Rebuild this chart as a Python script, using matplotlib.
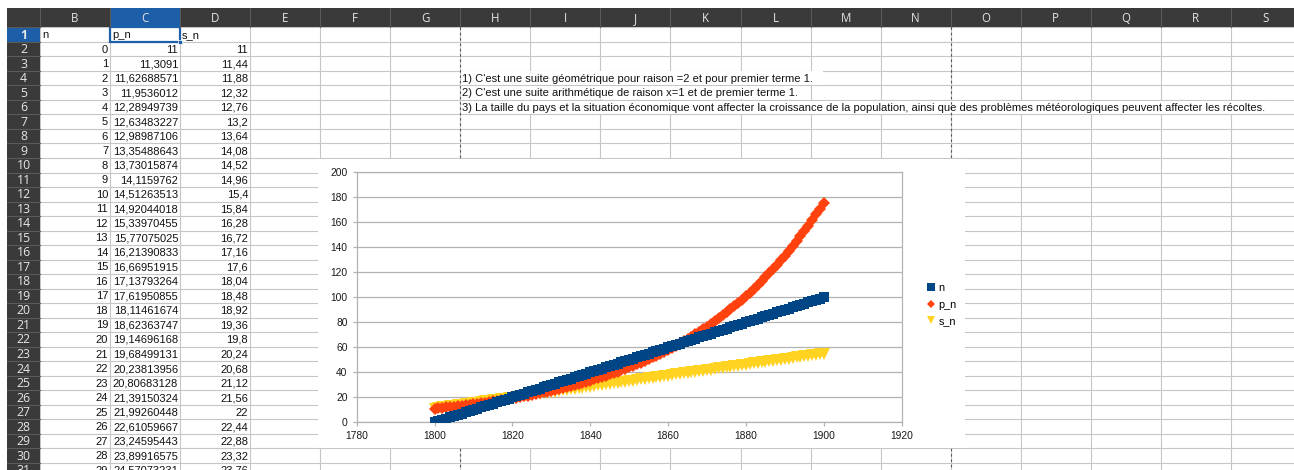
import matplotlib
matplotlib.use("Agg")
import matplotlib.pyplot as plt
from matplotlib.patches import Rectangle
from matplotlib.lines import Line2D

plt.rcParams['font.family'] = ['Liberation Sans', 'DejaVu Sans']

# column A (years), hidden behind the scroll position
years = [1800, 1801, 1802, 1803, 1804, 1805, 1806, 1807, 1808, 1809,
         1810, 1811, 1812, 1813, 1814, 1815, 1816, 1817, 1818, 1819,
         1820, 1821, 1822, 1823, 1824, 1825, 1826, 1827, 1828, 1829,
         1830, 1831, 1832, 1833, 1834, 1835, 1836, 1837, 1838, 1839,
         1840, 1841, 1842, 1843, 1844, 1845, 1846, 1847, 1848, 1849,
         1850, 1851, 1852, 1853, 1854, 1855, 1856, 1857, 1858, 1859,
         1860, 1861, 1862, 1863, 1864, 1865, 1866, 1867, 1868, 1869,
         1870, 1871, 1872, 1873, 1874, 1875, 1876, 1877, 1878, 1879,
         1880, 1881, 1882, 1883, 1884, 1885, 1886, 1887, 1888, 1889,
         1890, 1891, 1892, 1893, 1894, 1895, 1896, 1897, 1898, 1899,
         1900]

n_vals = [0, 1, 2, 3, 4, 5, 6, 7, 8, 9, 10, 11, 12, 13, 14, 15, 16, 17, 18, 19,
          20, 21, 22, 23, 24, 25, 26, 27, 28, 29, 30, 31, 32, 33, 34, 35, 36, 37, 38, 39,
          40, 41, 42, 43, 44, 45, 46, 47, 48, 49, 50, 51, 52, 53, 54, 55, 56, 57, 58, 59,
          60, 61, 62, 63, 64, 65, 66, 67, 68, 69, 70, 71, 72, 73, 74, 75, 76, 77, 78, 79,
          80, 81, 82, 83, 84, 85, 86, 87, 88, 89, 90, 91, 92, 93, 94, 95, 96, 97, 98, 99,
          100]

p_n = [11, 11.3091, 11.62688571, 11.9536012, 12.28949739, 12.63483227,
       12.98987106, 13.35488643, 13.73015874, 14.1159762, 14.51263513,
       14.92044018, 15.33970455, 15.77075025, 16.21390833, 16.66951915,
       17.13793264, 17.61950855, 18.11461674, 18.62363747, 19.14696168,
       19.68499131, 20.23813956, 20.80683128, 21.39150324, 21.99260448,
       22.61059667, 23.24595443, 23.89916575, 24.57073231, 25.2612,
       25.9710, 26.7008, 27.4511, 28.2225, 29.0155, 29.8308, 30.6691,
       31.5309, 32.4169, 33.3278, 34.2643, 35.2272, 36.2171, 37.2348,
       38.2811, 39.3567, 40.4627, 41.5997, 42.7686, 43.9704, 45.2060,
       46.4763, 47.7823, 49.1249, 50.5054, 51.9246, 53.3836, 54.8837,
       56.4259, 58.0115, 59.6416, 61.3176, 63.0406, 64.8120, 66.6333,
       68.5056, 70.4307, 72.4098, 74.4445, 76.5364, 78.6870, 80.8981,
       83.1714, 85.5085, 87.9113, 90.3816, 92.9213, 95.5324, 98.2169,
       100.9768, 103.8142, 106.7314, 109.7305, 112.8140, 115.9840,
       119.2432, 122.5939, 126.0388, 129.5805, 133.2217, 136.9652,
       140.8140, 144.7708, 148.8389, 153.0213, 157.3212, 161.7419,
       166.2868, 170.9595, 175.7635]

s_n = [11, 11.44, 11.88, 12.32, 12.76, 13.2, 13.64, 14.08, 14.52, 14.96,
       15.4, 15.84, 16.28, 16.72, 17.16, 17.6, 18.04, 18.48, 18.92, 19.36,
       19.8, 20.24, 20.68, 21.12, 21.56, 22, 22.44, 22.88, 23.32, 23.76,
       24.2, 24.64, 25.08, 25.52, 25.96, 26.4, 26.84, 27.28, 27.72, 28.16,
       28.6, 29.04, 29.48, 29.92, 30.36, 30.8, 31.24, 31.68, 32.12, 32.56,
       33, 33.44, 33.88, 34.32, 34.76, 35.2, 35.64, 36.08, 36.52, 36.96,
       37.4, 37.84, 38.28, 38.72, 39.16, 39.6, 40.04, 40.48, 40.92, 41.36,
       41.8, 42.24, 42.68, 43.12, 43.56, 44, 44.44, 44.88, 45.32, 45.76,
       46.2, 46.64, 47.08, 47.52, 47.96, 48.4, 48.84, 49.28, 49.72, 50.16,
       50.6, 51.04, 51.48, 51.92, 52.36, 52.8, 53.24, 53.68, 54.12, 54.56,
       55]

col_letters = ['B', 'C', 'D', 'E', 'F', 'G', 'H', 'I', 'J', 'K', 'L', 'M',
               'N', 'O', 'P', 'Q', 'R', 'S']
headers = ['n', 'p_n', 's_n']
notes = [
    "1) C'est une suite géométrique pour raison =2 et pour premier terme 1.",
    "2) C'est une suite arithmétique de raison x=1 et de premier terme 1.",
    "3) La taille du pays et la situation économique vont affecter la croissance "
    "de la population, ainsi que des problèmes météorologiques peuvent affecter les récoltes.",
]

W, H = 1294, 470
fig = plt.figure(figsize=(W / 100, H / 100), dpi=100)
fig.patch.set_facecolor('white')

sheet = fig.add_axes([0, 0, 1, 1])
sheet.set_xlim(0, W)
sheet.set_ylim(H, 0)
sheet.axis('off')

HEAD_TOP, HEAD_BOT = 8, 27.3
ROWNUM_L, ROWNUM_R = 7, 40
COL_W, ROW_H = 70.05, 14.52
N_ROWS = 31
DARK = '#3a3a3a'
SEL = '#1d5ea8'
GRID = '#c6c6c6'
CELL_FS = 8.0


def col_left(i):
    return ROWNUM_R + i * COL_W


def row_top(r):
    return HEAD_BOT + (r - 1) * ROW_H


def cell_text(v):
    s = f"{v:.8f}".rstrip('0').rstrip('.')
    return s.replace('.', ',')


# cell grid
for i in range(len(col_letters) + 1):
    x = col_left(i)
    sheet.plot([x, x], [HEAD_BOT, H], color=GRID, lw=0.8, zorder=1)
for r in range(1, N_ROWS + 2):
    y = row_top(r)
    sheet.plot([ROWNUM_R, W], [y, y], color=GRID, lw=0.8, zorder=1)

# overflowing note text hides the vertical lines underneath
text_x0 = col_left(6) + 1.5
note_ends = [col_left(11) + 12, col_left(10) + 55, col_left(17) + 36]
for k, x_end in enumerate(note_ends):
    r = 4 + k
    sheet.add_patch(Rectangle((col_left(6) + 0.6, row_top(r) + 0.6),
                              x_end - col_left(6), ROW_H - 1.2,
                              facecolor='white', edgecolor='none', zorder=1.5))

# page breaks
for i in (6, 13):
    x = col_left(i)
    sheet.plot([x, x], [HEAD_BOT, H], color='#555555', lw=0.8,
               linestyle=(0, (2.2, 2.6)), zorder=1.8)

# column header bar
sheet.add_patch(Rectangle((ROWNUM_L, HEAD_TOP), W - ROWNUM_L, HEAD_BOT - HEAD_TOP,
                          facecolor=DARK, edgecolor='none', zorder=3))
sheet.add_patch(Rectangle((col_left(1), HEAD_TOP), COL_W, HEAD_BOT - HEAD_TOP,
                          facecolor=SEL, edgecolor='none', zorder=3.1))
for i in range(len(col_letters) + 1):
    x = col_left(i)
    sheet.plot([x, x], [HEAD_TOP, HEAD_BOT], color='#5a5a5a', lw=0.8, zorder=3.2)
for i, letter in enumerate(col_letters):
    sheet.text(col_left(i) + COL_W / 2, (HEAD_TOP + HEAD_BOT) / 2 + 0.5, letter,
               ha='center', va='center', fontsize=8.3, color='#e6e6e6',
               family=['Open Sans', 'DejaVu Sans'], zorder=4)

# row number column
sheet.add_patch(Rectangle((ROWNUM_L, HEAD_BOT), ROWNUM_R - ROWNUM_L, H - HEAD_BOT,
                          facecolor=DARK, edgecolor='none', zorder=3))
sheet.add_patch(Rectangle((ROWNUM_L, row_top(1)), ROWNUM_R - ROWNUM_L, ROW_H,
                          facecolor=SEL, edgecolor='none', zorder=3.1))
for r in range(1, N_ROWS + 2):
    y = row_top(r)
    sheet.plot([ROWNUM_L, ROWNUM_R], [y, y], color='#5a5a5a', lw=0.8, zorder=3.2)
for r in range(1, N_ROWS + 1):
    sheet.text((ROWNUM_L + ROWNUM_R) / 2, row_top(r) + ROW_H / 2 + 0.5, str(r),
               ha='center', va='center', fontsize=8.8, color='#e6e6e6',
               fontweight='bold' if r == 1 else 'normal',
               family=['Open Sans', 'DejaVu Sans'], zorder=4)

# header cells and selection frame on C1
for i, label in enumerate(headers):
    sheet.text(col_left(i) + 2, row_top(1) + ROW_H / 2 + 0.5, label,
               ha='left', va='center', fontsize=CELL_FS, color='#111111', zorder=2)
sheet.add_patch(Rectangle((col_left(1), row_top(1)), COL_W, ROW_H,
                          facecolor='none', edgecolor=SEL, lw=1.6, zorder=2.5))
sheet.add_patch(Rectangle((col_left(2) - 2, row_top(2) - 2), 4, 4,
                          facecolor=SEL, edgecolor='white', lw=0.5, zorder=2.6))

# data cells, rows 2..31 (row 31 is cut by the window edge)
for k in range(N_ROWS - 1):
    yc = row_top(k + 2) + ROW_H / 2 + 0.5
    values = [str(n_vals[k]), cell_text(p_n[k]), cell_text(s_n[k])]
    for i, txt in enumerate(values):
        sheet.text(col_left(i + 1) - 2, yc, txt, ha='right', va='center',
                   fontsize=CELL_FS, color='#111111', zorder=2)

# notes in H4:H6
for k, line in enumerate(notes):
    sheet.text(text_x0, row_top(4 + k) + ROW_H / 2 + 0.5, line, ha='left',
               va='center', fontsize=CELL_FS, color='#111111', zorder=2)

# chart frame (white) sitting over the sheet
sheet.add_patch(Rectangle((318, 159), 965 - 318, 448 - 159,
                          facecolor='white', edgecolor='none', zorder=5))

# plot area
px_l, px_r, px_t, px_b = 356.7, 901.7, 172.3, 422.3
ax = fig.add_axes([px_l / W, 1 - px_b / H, (px_r - px_l) / W, (px_b - px_t) / H])
ax.set_zorder(6)
ax.set_facecolor('white')

ax.plot(years, s_n, linestyle='none', marker='v', markersize=8.2,
        color='#ffd320', markeredgewidth=0, zorder=2)
ax.plot(years, p_n, linestyle='none', marker='D', markersize=6.0,
        color='#ff420e', markeredgewidth=0, zorder=3)
ax.plot(years, n_vals, linestyle='none', marker='s', markersize=7.6,
        color='#004586', markeredgewidth=0, zorder=4)

ax.set_xlim(1780, 1920)
ax.set_ylim(0, 200)
ax.set_xticks(range(1780, 1921, 20))
ax.set_yticks(range(0, 201, 20))
ax.yaxis.grid(True, color='#b3b3b3', lw=0.9)
ax.set_axisbelow(True)
for sp in ax.spines.values():
    sp.set_color('#b3b3b3')
    sp.set_linewidth(0.9)
ax.tick_params(direction='out', length=3, width=0.9, color='#b3b3b3',
               labelsize=7.4, labelcolor='#1a1a1a', pad=3.5)

handles = [
    Line2D([], [], linestyle='none', marker='s', markersize=5.2, color='#004586', mew=0),
    Line2D([], [], linestyle='none', marker='D', markersize=4.4, color='#ff420e', mew=0),
    Line2D([], [], linestyle='none', marker='v', markersize=6.4, color='#ffd320', mew=0),
]
leg = ax.legend(handles, headers, loc='upper left', frameon=False,
                bbox_to_anchor=(927 / W, 1 - 283 / H), bbox_transform=fig.transFigure,
                borderpad=0, borderaxespad=0, handlelength=0.8, handletextpad=0.25,
                labelspacing=0.6, fontsize=7.8)

fig.savefig('out.png', dpi=100)
